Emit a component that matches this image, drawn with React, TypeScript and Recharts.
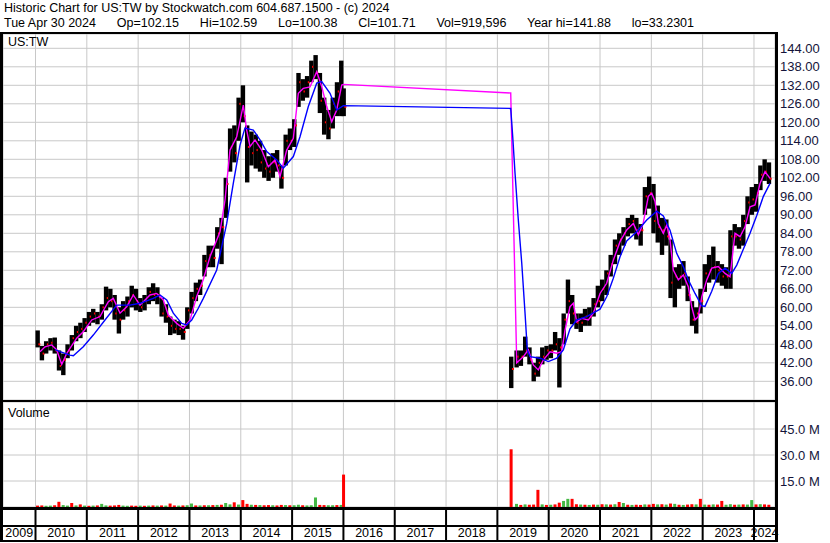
import React from 'react';
import { ComposedChart, Bar, Line, XAxis, YAxis, CartesianGrid } from 'recharts';

// ---------- axis / category data ----------
const yearBoundaries = [2010, 2011, 2012, 2013, 2014, 2015, 2016, 2017, 2018, 2019, 2020, 2021, 2022, 2023, 2024];
const yearLabels = ['2009', '2010', '2011', '2012', '2013', '2014', '2015', '2016', '2017', '2018', '2019', '2020', '2021', '2022', '2023', '2024'];
const priceTicks = [36, 42, 48, 54, 60, 66, 72, 78, 84, 90, 96, 102, 108, 114, 120, 126, 132, 138, 144];
const volumeTicks = [15, 30, 45];

const X_DOMAIN: [number, number] = [2009.3667, 2024.4096];
const PRICE_DOMAIN: [number, number] = [29.94, 148.64];
const VOL_DOMAIN: [number, number] = [0, 60.58];

// ---------- price / volume data: [time (decimal year), low, high, close, volume (M), up(1)/down(0)] ----------
const ohlcFirstListing: number[][] = [
  [2010.042, 47, 52.5, 48, 0.8, 0],
  [2010.125, 42.8, 47.5, 45, 0.9, 0],
  [2010.208, 45, 49, 48, 0.7, 1],
  [2010.292, 46, 50, 48.5, 0.8, 1],
  [2010.375, 45, 50.2, 46, 1.0, 0],
  [2010.458, 39.5, 46, 41, 3.0, 0],
  [2010.542, 38, 45, 43, 1.1, 1],
  [2010.625, 43.5, 48, 46, 0.8, 1],
  [2010.708, 46, 51, 50, 2.3, 0],
  [2010.792, 49, 54, 52, 0.9, 1],
  [2010.875, 50, 55, 53, 1.5, 0],
  [2010.958, 52, 56.5, 55, 0.8, 1],
  [2011.042, 54, 58.5, 57, 0.7, 0],
  [2011.125, 55, 59.5, 58, 0.8, 1],
  [2011.208, 54.5, 58.5, 57, 0.9, 0],
  [2011.292, 56, 61, 60, 1.8, 1],
  [2011.375, 59, 66.7, 63, 0.9, 1],
  [2011.458, 60, 66, 62, 0.8, 0],
  [2011.542, 56, 64, 58, 0.9, 0],
  [2011.625, 51.5, 60, 56, 1.2, 0],
  [2011.708, 56, 62, 59, 0.8, 1],
  [2011.792, 57, 63.5, 62, 0.7, 1],
  [2011.875, 60, 67, 64, 0.8, 0],
  [2011.958, 59, 66, 62, 0.7, 0],
  [2012.042, 58.5, 63, 60, 0.8, 1],
  [2012.125, 59, 64, 62, 0.7, 0],
  [2012.208, 61, 66.5, 65, 0.8, 1],
  [2012.292, 62, 67.8, 64, 0.9, 0],
  [2012.375, 61, 66.5, 64, 0.8, 1],
  [2012.458, 57, 63, 58, 0.9, 0],
  [2012.542, 55, 61, 57, 0.8, 1],
  [2012.625, 51, 57, 54, 2.0, 0],
  [2012.708, 51.5, 56, 53, 0.9, 0],
  [2012.792, 51, 55.5, 53, 0.8, 1],
  [2012.875, 49.5, 54, 52, 0.9, 0],
  [2012.958, 53, 60, 59, 1.0, 1],
  [2013.042, 58, 65, 63, 2.0, 1],
  [2013.125, 62, 68, 66, 0.9, 0],
  [2013.208, 64, 69, 67, 0.9, 1],
  [2013.292, 70, 77, 75, 1.0, 0],
  [2013.375, 73, 80, 77, 1.0, 1],
  [2013.458, 73, 80, 76, 1.1, 0],
  [2013.542, 79, 86, 84, 1.2, 1],
  [2013.625, 74, 89, 86, 1.3, 0],
  [2013.708, 89, 102, 100, 2.3, 1],
  [2013.792, 104, 118, 112, 1.5, 1],
  [2013.875, 107, 119, 110, 2.7, 0],
  [2013.958, 114, 128, 126, 1.4, 1],
  [2014.042, 120, 132, 122, 4.0, 0],
  [2014.125, 100.5, 119, 112, 1.8, 0],
  [2014.208, 106, 117, 110, 1.3, 1],
  [2014.292, 105, 116, 111, 1.2, 0],
  [2014.375, 104, 114, 107, 1.1, 1],
  [2014.458, 102, 111, 105, 1.0, 0],
  [2014.542, 101, 109, 104, 1.1, 0],
  [2014.625, 102, 110, 107, 1.0, 1],
  [2014.708, 104, 111, 106, 0.9, 0],
  [2014.792, 98.5, 106, 102, 1.2, 0],
  [2014.875, 106, 116, 114, 1.1, 1],
  [2014.958, 111, 118, 114, 1.0, 0],
  [2015.042, 112, 121, 119, 1.0, 1],
  [2015.125, 125, 136, 133, 1.3, 1],
  [2015.208, 127, 134, 130, 1.0, 0],
  [2015.292, 128, 135, 133, 0.9, 1],
  [2015.375, 133, 140, 138, 1.0, 1],
  [2015.458, 134, 141.8, 136, 5.5, 1],
  [2015.542, 123, 136, 127, 1.2, 0],
  [2015.625, 116, 128, 120, 1.1, 0],
  [2015.708, 114.5, 124, 118, 1.0, 1],
  [2015.792, 118, 128, 126, 1.0, 1],
  [2015.875, 122, 133, 130, 1.1, 0],
  [2015.958, 122, 140, 128, 1.2, 1],
  [2016.005, 122, 131, 125, 18.7, 0],
];

const ohlcSecondListing: number[][] = [
  [2019.27, 33.8, 44, 40, 33.3, 0],
  [2019.375, 40.5, 46, 44, 1.8, 1],
  [2019.458, 41, 46, 44, 1.2, 0],
  [2019.542, 44, 50.5, 46, 1.5, 1],
  [2019.625, 41.5, 47, 43, 1.3, 0],
  [2019.708, 36, 42, 38.5, 1.4, 0],
  [2019.792, 37.5, 44, 42, 9.9, 0],
  [2019.875, 41.5, 47, 44, 1.5, 1],
  [2019.958, 43, 47.5, 46, 1.2, 0],
  [2020.042, 43.5, 48, 46, 1.3, 1],
  [2020.125, 46, 52, 48, 1.5, 0],
  [2020.208, 34, 50, 47, 2.5, 0],
  [2020.292, 48, 58, 56, 3.5, 1],
  [2020.375, 58, 69, 62, 4.7, 1],
  [2020.458, 54.5, 64, 58, 4.7, 0],
  [2020.542, 53, 58, 55, 1.6, 0],
  [2020.625, 52, 58, 55, 1.4, 1],
  [2020.708, 54, 59.5, 57, 1.3, 0],
  [2020.792, 54, 60, 57, 1.2, 1],
  [2020.875, 57, 63, 61, 1.4, 0],
  [2020.958, 60, 67, 62, 1.3, 1],
  [2021.042, 62, 69, 66, 1.6, 0],
  [2021.125, 64, 72, 71, 1.5, 1],
  [2021.208, 70, 77, 74, 1.4, 0],
  [2021.292, 74, 82, 80, 1.6, 1],
  [2021.375, 77, 84, 82, 2.9, 0],
  [2021.458, 80, 86, 84, 2.3, 1],
  [2021.542, 83, 89, 87, 1.3, 0],
  [2021.625, 84, 90, 88, 1.2, 1],
  [2021.708, 82, 89, 85, 1.3, 0],
  [2021.792, 80, 87, 85, 1.2, 0],
  [2021.875, 90, 99, 96, 1.5, 1],
  [2021.958, 92, 102.4, 97, 1.4, 0],
  [2022.042, 84, 100, 88, 1.8, 0],
  [2022.125, 81, 93, 86, 1.5, 1],
  [2022.208, 77, 89, 85, 1.6, 0],
  [2022.292, 80, 88.5, 83, 1.4, 1],
  [2022.375, 63, 82, 68, 2.0, 0],
  [2022.458, 60, 73, 70, 1.8, 1],
  [2022.542, 66, 74, 70, 1.3, 0],
  [2022.625, 67, 75, 71, 1.2, 1],
  [2022.708, 62, 70, 64, 1.4, 0],
  [2022.792, 54, 62, 56, 1.6, 0],
  [2022.875, 51.5, 60, 58, 1.5, 1],
  [2022.958, 58, 66, 62, 4.7, 0],
  [2023.042, 65, 74, 71, 1.4, 1],
  [2023.125, 68, 77, 72, 1.3, 0],
  [2023.208, 69, 79.7, 73, 1.5, 1],
  [2023.292, 68, 75, 72, 1.4, 0],
  [2023.375, 67, 74, 70, 3.5, 0],
  [2023.458, 66, 73, 70, 1.3, 1],
  [2023.542, 66, 85, 83, 1.6, 1],
  [2023.625, 80, 87, 83, 1.3, 0],
  [2023.708, 79, 86, 82, 1.4, 1],
  [2023.792, 80, 90, 88, 1.5, 0],
  [2023.875, 87, 96, 94, 1.4, 1],
  [2023.958, 90, 99, 95, 4.0, 1],
  [2024.042, 91, 100, 97, 1.5, 0],
  [2024.125, 98, 106, 103, 1.6, 1],
  [2024.208, 101, 108, 104, 1.5, 0],
  [2024.292, 100, 107, 101.7, 1.3, 0],
];

// ---------- moving averages: [time, value] ----------
const maShort: number[][] = [
  [2010.088, 45.6], [2010.185, 47.2], [2010.316, 47.8], [2010.413, 46.2], [2010.511, 41.5], [2010.608, 45.0],
  [2010.672, 46.7], [2010.803, 50.0], [2010.931, 52.1], [2011.095, 55.9], [2011.257, 57.0], [2011.419, 61.8],
  [2011.516, 62.9], [2011.647, 58.1], [2011.777, 60.2], [2011.906, 64.0], [2012.036, 60.7], [2012.231, 64.0],
  [2012.362, 64.5], [2012.49, 62.4], [2012.588, 57.5], [2012.751, 54.8], [2012.88, 53.2], [2013.011, 55.9],
  [2013.141, 63.5], [2013.27, 69.0], [2013.4, 76.4], [2013.595, 84.5], [2013.693, 94.8], [2013.79, 111.0],
  [2013.921, 115.3], [2014.049, 125.6], [2014.115, 117.5], [2014.18, 112.1], [2014.277, 114.3], [2014.408, 111.0],
  [2014.536, 105.6], [2014.667, 107.8], [2014.764, 102.4], [2014.895, 111.0], [2015.024, 114.8], [2015.121, 129.4],
  [2015.218, 131.0], [2015.349, 131.5], [2015.48, 136.4], [2015.577, 131.6], [2015.675, 125.1], [2015.772, 120.2],
  [2015.869, 124.0], [2015.967, 132.1], [2015.998, 132.3],
  [2019.26, 129.5], [2019.377, 42.0], [2019.506, 44.0], [2019.603, 46.2], [2019.7, 41.3], [2019.798, 39.7],
  [2019.895, 42.9], [2020.026, 45.6], [2020.156, 45.1], [2020.253, 45.6], [2020.318, 52.6], [2020.415, 60.2],
  [2020.48, 61.3], [2020.546, 55.3], [2020.643, 56.4], [2020.772, 55.9], [2020.87, 58.1], [2021.0, 64.5],
  [2021.13, 67.8], [2021.259, 75.3], [2021.39, 81.3], [2021.52, 85.1], [2021.649, 87.2], [2021.747, 83.5],
  [2021.838, 87.0], [2021.941, 96.0], [2022.008, 97.0], [2022.072, 94.3], [2022.136, 87.2], [2022.233, 84.0],
  [2022.3, 86.7], [2022.364, 81.8], [2022.428, 72.1], [2022.526, 68.9], [2022.623, 70.5], [2022.72, 66.7],
  [2022.787, 60.2], [2022.851, 55.9], [2022.915, 57.0], [2022.982, 63.4], [2023.079, 68.9], [2023.177, 72.7],
  [2023.305, 73.2], [2023.436, 71.0], [2023.533, 69.9], [2023.631, 84.0], [2023.728, 82.9], [2023.826, 86.1],
  [2023.923, 92.6], [2024.021, 93.2], [2024.118, 100.2], [2024.215, 104.0], [2024.313, 101.8],
];

const maLong: number[][] = [
  [2010.38, 46.3], [2010.477, 45.6], [2010.672, 44.5], [2010.737, 44.3], [2010.931, 47.2], [2011.126, 51.0],
  [2011.354, 55.9], [2011.582, 60.7], [2011.841, 60.7], [2012.036, 61.3], [2012.295, 62.9], [2012.426, 64.0],
  [2012.557, 62.4], [2012.685, 58.1], [2012.849, 54.8], [2012.946, 54.3], [2013.044, 55.9], [2013.172, 59.7],
  [2013.27, 62.9], [2013.531, 72.1], [2013.726, 87.2], [2013.854, 100.2], [2013.985, 112.6], [2014.082, 118.1],
  [2014.244, 117.5], [2014.375, 114.3], [2014.505, 110.5], [2014.7, 107.8], [2014.829, 105.1], [2015.024, 108.9],
  [2015.154, 115.3], [2015.316, 125.1], [2015.48, 132.7], [2015.577, 133.2], [2015.739, 129.4], [2015.869, 124.0],
  [2015.998, 125.4],
  [2019.26, 124.5], [2019.299, 115.3], [2019.344, 103.5], [2019.408, 88.3], [2019.475, 74.3], [2019.539, 58.1],
  [2019.583, 46.2], [2019.636, 44.0], [2019.831, 43.5], [2019.993, 42.4], [2020.156, 43.5], [2020.285, 46.2],
  [2020.415, 53.0], [2020.546, 55.9], [2020.741, 57.0], [2021.0, 59.4], [2021.13, 63.4], [2021.259, 69.4],
  [2021.39, 76.4], [2021.52, 81.5], [2021.715, 84.5], [2021.91, 88.3], [2022.105, 91.2], [2022.233, 89.6],
  [2022.364, 85.0], [2022.494, 77.5], [2022.623, 73.2], [2022.72, 68.9], [2022.851, 64.5], [2022.982, 60.5],
  [2023.046, 60.3], [2023.177, 65.2], [2023.305, 71.0], [2023.436, 72.7], [2023.566, 71.0], [2023.664, 73.7],
  [2023.792, 78.8], [2023.923, 84.0], [2024.054, 89.8], [2024.183, 96.0], [2024.313, 100.2],
];

// ---------- derived tables ----------
const toRows = (rows: number[][]) =>
  rows.map(([t, lo, hi, cl, vol, up]) => ({ t, lo, hi, cl, vol, up, range: [lo, hi] }));
const priceRows = [...toRows(ohlcFirstListing), ...toRows(ohlcSecondListing)];
const shortRows = maShort.map(([t, v]) => ({ t, v }));
const longRows = maLong.map(([t, v]) => ({ t, v }));
const labelTicks = yearLabels.map((y) => {
  const start = Math.max(Number(y), X_DOMAIN[0]);
  const end = Math.min(Number(y) + 1, X_DOMAIN[1]);
  return (start + end) / 2;
});

const FONT = 'Arial, "Liberation Sans", sans-serif';
const AXIS_TEXT = '#14143a';
const GRID = '#c8c8c8';
const PRICE_BAR_W = 4.4;
const VOL_BAR_W = 3;

const PriceBar = (props: any) => {
  const { x, y, width, height, payload } = props;
  if (!payload || !Number.isFinite(y) || !Number.isFinite(height) || !Number.isFinite(x)) return null;
  const cx = x + (Number.isFinite(width) ? width / 2 : 0);
  const top = Math.min(y, y + height);
  const h = Math.max(Math.abs(height), 1);
  const span = payload.hi - payload.lo;
  const cy = top + (span > 0 ? (h * (payload.hi - payload.cl)) / span : 0);
  return (
    <g>
      <rect x={cx - PRICE_BAR_W / 2} y={top} width={PRICE_BAR_W} height={h} fill="#000" />
      <rect x={cx + PRICE_BAR_W / 2 - 1.5} y={cy - 1} width={2} height={2} fill="#ff0000" />
    </g>
  );
};

const VolBar = (props: any) => {
  const { x, y, width, height, payload } = props;
  if (!payload || !Number.isFinite(y) || !Number.isFinite(height) || !Number.isFinite(x)) return null;
  const cx = x + (Number.isFinite(width) ? width / 2 : 0);
  const top = Math.min(y, y + height);
  return (
    <rect
      x={cx - VOL_BAR_W / 2}
      y={top}
      width={VOL_BAR_W}
      height={Math.abs(height)}
      fill={payload.up ? '#44b844' : '#ff0000'}
    />
  );
};

const SepTick = (props: any) => {
  const { x, y } = props;
  return <line x1={x} x2={x} y1={y + 3} y2={y + 33} stroke="#000" strokeWidth={2} />;
};

const LabelTick = (props: any) => {
  const { x, y, payload } = props;
  return (
    <text x={x} y={y + 12} textAnchor="middle" fontSize={12.5} fill="#000" fontFamily={FONT}>
      {String(Math.floor(payload.value))}
    </text>
  );
};

const hLine = (top: number, h: number, left = 0, width = 778) => (
  <div style={{ position: 'absolute', left, top, width, height: h, background: '#000' }} />
);

const headerStyle: React.CSSProperties = {
  position: 'absolute',
  left: 4,
  fontSize: 12.5,
  lineHeight: '14px',
  whiteSpace: 'pre',
  color: '#000',
};

export default function App() {
  return (
    <div
      style={{
        position: 'absolute',
        left: 0,
        top: 0,
        width: 830,
        height: 543,
        background: '#fff',
        fontFamily: FONT,
        overflow: 'hidden',
      }}
    >
      <div style={{ ...headerStyle, top: 1 }}>Historic Chart for US:TW by Stockwatch.com 604.687.1500 - (c) 2024</div>
      <div style={{ ...headerStyle, top: 16 }}>
        {'Tue Apr 30 2024      Op=102.15      Hi=102.59      Lo=100.38      Cl=101.71      Vol=919,596      Year hi=141.88      lo=33.2301'}
      </div>

      {/* price panel */}
      <div style={{ position: 'absolute', left: 0, top: 0 }}>
        <ComposedChart width={830} height={401} data={priceRows} margin={{ top: 34, right: 0, bottom: 1, left: 3 }}>
          <CartesianGrid stroke={GRID} strokeWidth={1} />
          <XAxis dataKey="t" type="number" domain={X_DOMAIN} ticks={yearBoundaries} allowDataOverflow hide />
          <YAxis
            orientation="right"
            width={55}
            type="number"
            domain={PRICE_DOMAIN}
            ticks={priceTicks}
            allowDataOverflow
            axisLine={false}
            tickLine={false}
            tickSize={0}
            tickMargin={5}
            interval={0}
            tickFormatter={(v: number) => v.toFixed(2)}
            tick={{ fontSize: 13, fill: AXIS_TEXT, fontFamily: FONT }}
          />
          <Bar dataKey="range" barSize={4} shape={PriceBar} isAnimationActive={false} />
          <Line data={shortRows} dataKey="v" type="linear" stroke="#ff00ff" strokeWidth={1.4} dot={false} isAnimationActive={false} />
          <Line data={longRows} dataKey="v" type="linear" stroke="#0000ff" strokeWidth={1.4} dot={false} isAnimationActive={false} />
        </ComposedChart>
      </div>

      {/* volume panel + time axis */}
      <div style={{ position: 'absolute', left: 0, top: 0 }}>
        <ComposedChart width={830} height={543} data={priceRows} margin={{ top: 402, right: 0, bottom: 3, left: 3 }}>
          <CartesianGrid stroke={GRID} strokeWidth={1} />
          <XAxis
            dataKey="t"
            type="number"
            domain={X_DOMAIN}
            ticks={yearBoundaries}
            allowDataOverflow
            height={18}
            axisLine={false}
            tickLine={false}
            tickSize={0}
            tickMargin={0}
            interval={0}
            tick={<SepTick />}
          />
          <XAxis
            xAxisId="lab"
            dataKey="t"
            type="number"
            domain={X_DOMAIN}
            ticks={labelTicks}
            allowDataOverflow
            height={15}
            axisLine={false}
            tickLine={false}
            tickSize={0}
            tickMargin={0}
            interval={0}
            tick={<LabelTick />}
          />
          <YAxis
            orientation="right"
            width={55}
            type="number"
            domain={VOL_DOMAIN}
            ticks={volumeTicks}
            allowDataOverflow
            axisLine={false}
            tickLine={false}
            tickSize={0}
            tickMargin={5}
            interval={0}
            tickFormatter={(v: number) => `${v.toFixed(1)} M`}
            tick={{ fontSize: 13, fill: AXIS_TEXT, fontFamily: FONT }}
          />
          <Bar dataKey="vol" barSize={VOL_BAR_W} shape={VolBar} isAnimationActive={false} />
        </ComposedChart>
      </div>

      {/* frame */}
      {hLine(32, 2)}
      {hLine(400, 2)}
      {hLine(507, 3)}
      {hLine(525, 2)}
      {hLine(540, 2)}
      <div style={{ position: 'absolute', left: 0, top: 32, width: 3, height: 510, background: '#000' }} />
      <div style={{ position: 'absolute', left: 775, top: 32, width: 3, height: 510, background: '#000' }} />

      <div style={{ position: 'absolute', left: 8, top: 35, fontSize: 12.5, lineHeight: '14px', color: '#000' }}>US:TW</div>
      <div style={{ position: 'absolute', left: 8, top: 406, fontSize: 12.5, lineHeight: '14px', color: '#000' }}>Volume</div>
    </div>
  );
}
